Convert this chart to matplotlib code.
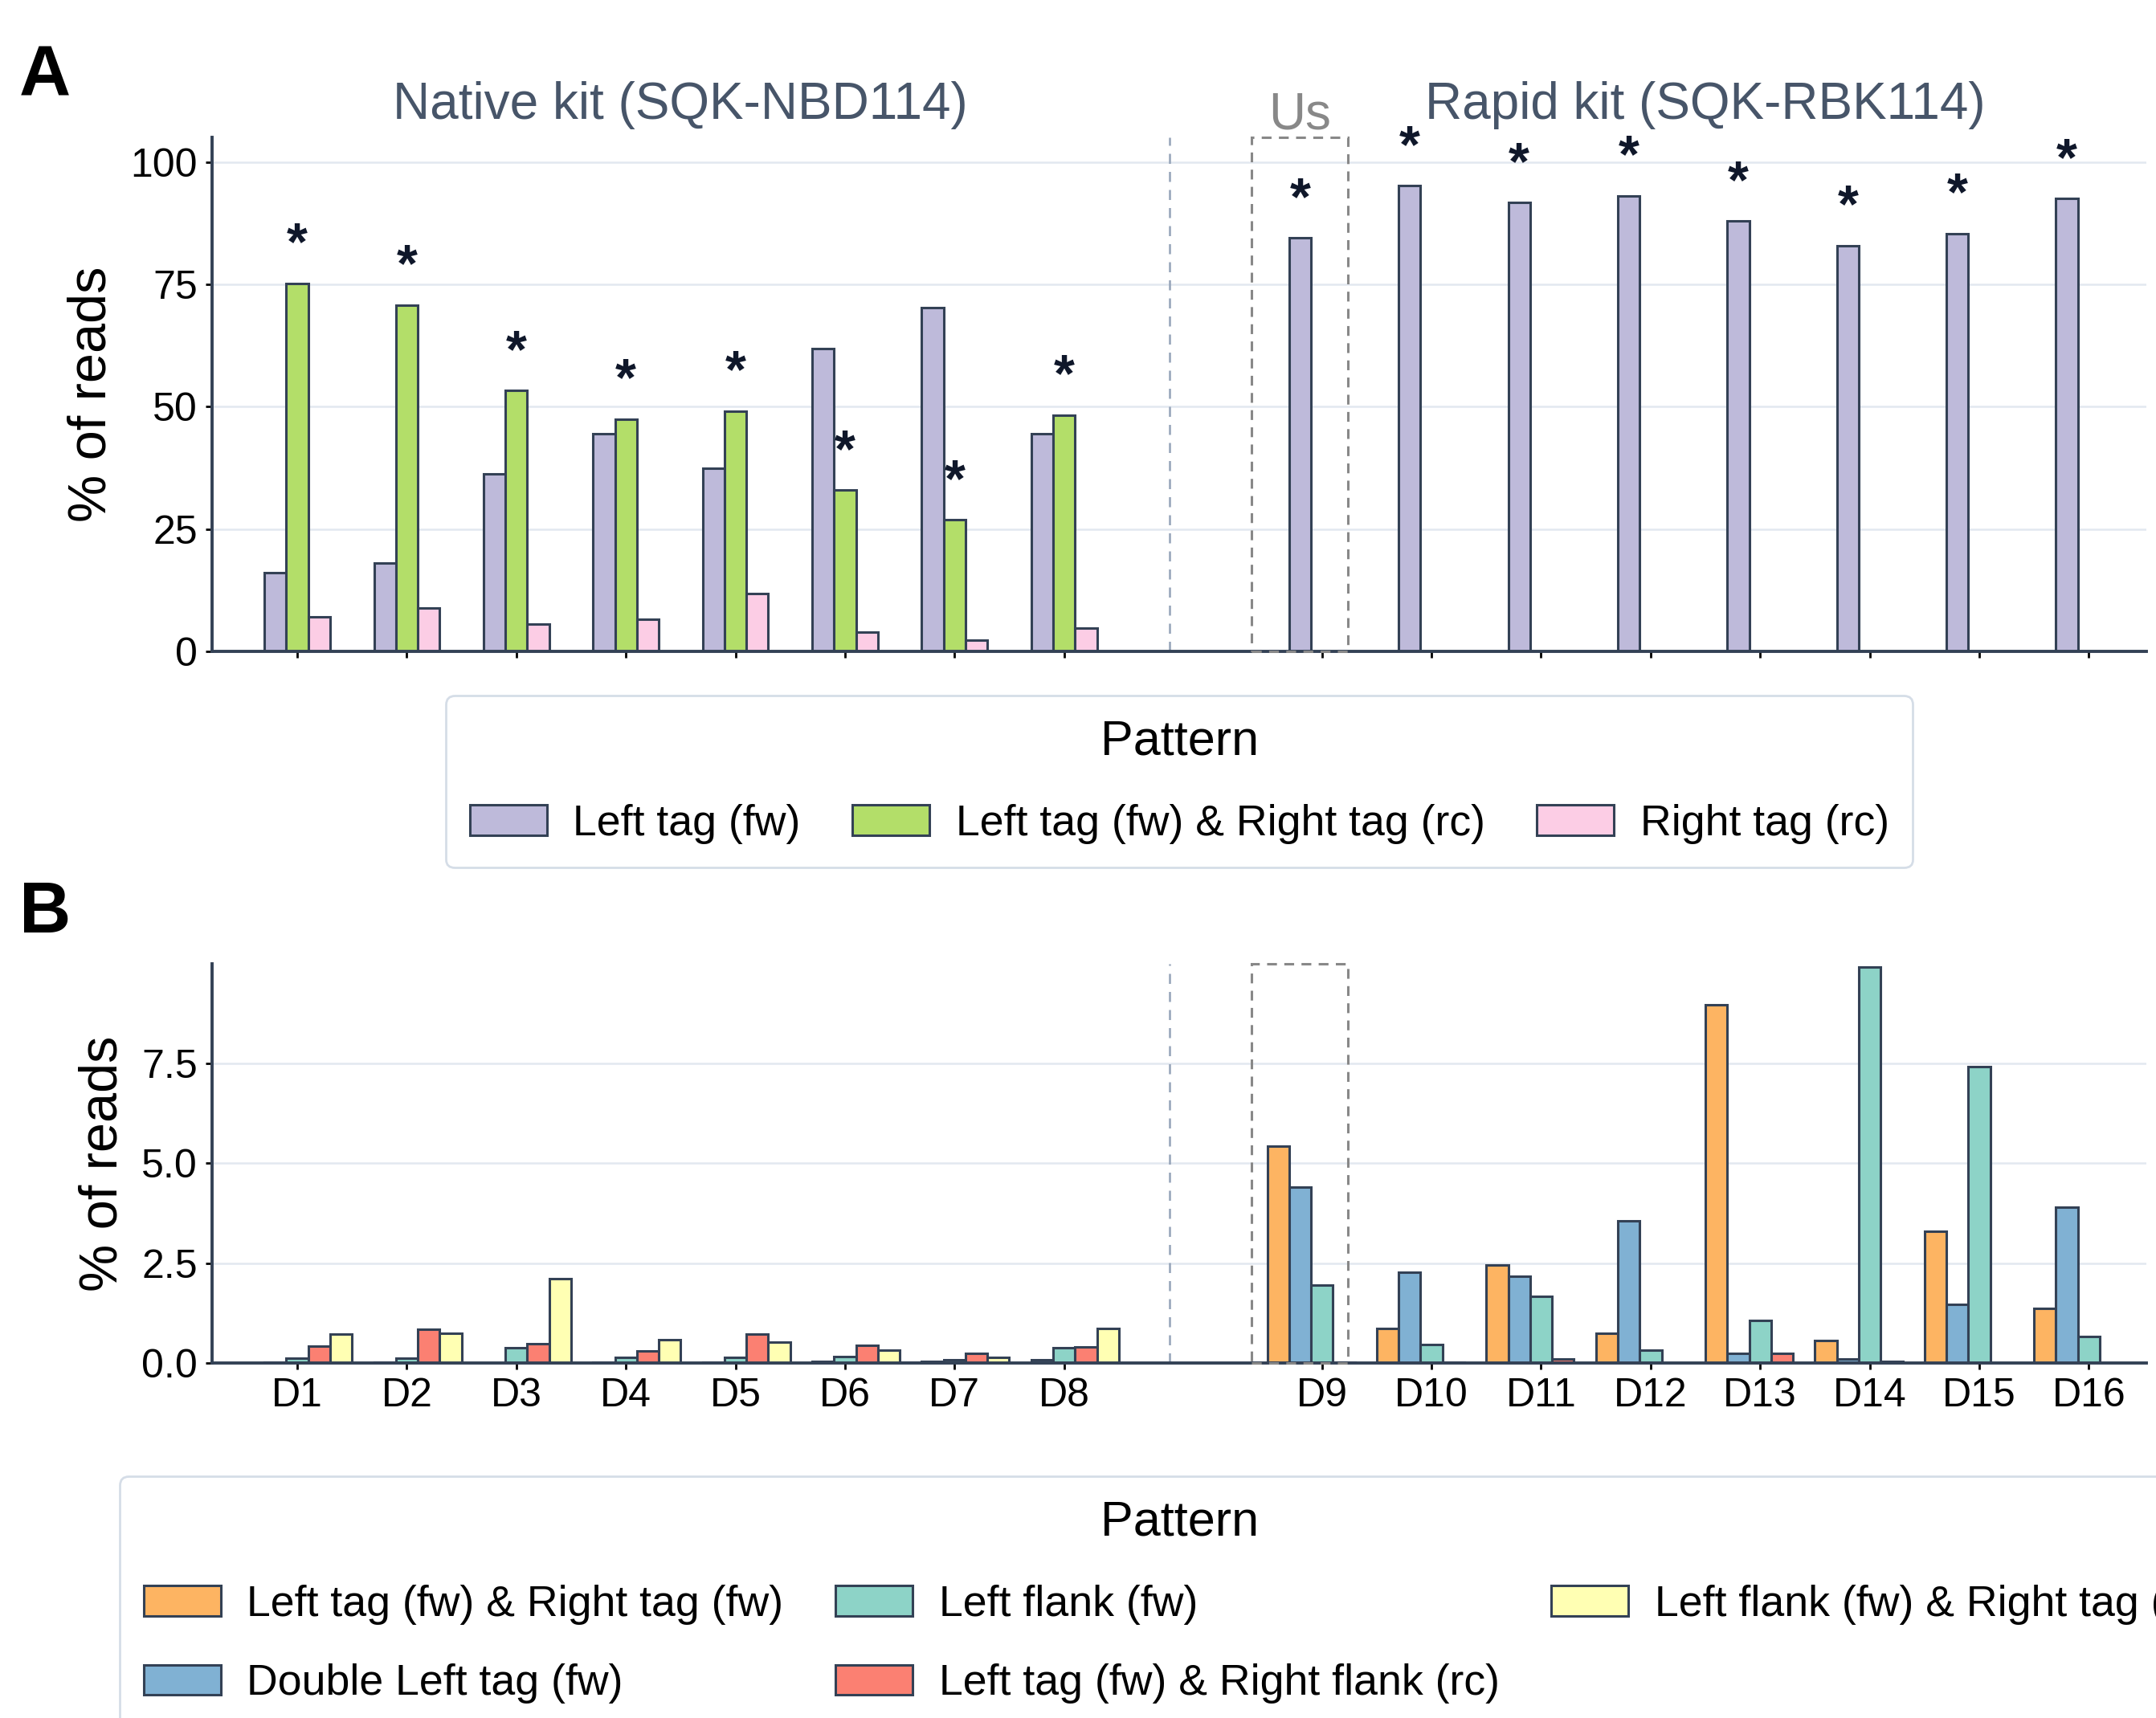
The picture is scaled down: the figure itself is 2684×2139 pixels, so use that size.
import matplotlib
matplotlib.use("Agg")
from matplotlib import pyplot as plt
from matplotlib.patches import Rectangle
import matplotlib.transforms as mtransforms
import numpy as np

plt.rcParams['font.family'] = ['Liberation Sans', 'DejaVu Sans']

# --- data ---
barcodes = ["D%d" % i for i in range(1, 17)]
native_n = 8  # D1..D8 native kit, D9..D16 rapid kit

# panel A (% of reads)
left_tag_fw = [16.1, 18.1, 36.2, 44.4, 37.5, 61.8, 70.2, 44.5,
               84.5, 95.1, 91.7, 93.1, 87.9, 82.9, 85.4, 92.5]
left_right_rc = [75.2, 70.8, 53.3, 47.5, 49.1, 33.0, 26.9, 48.3,
                 0, 0, 0, 0, 0, 0, 0, 0]
right_tag_rc = [7.0, 8.85, 5.6, 6.6, 11.8, 4.0, 2.35, 4.75,
                0, 0, 0, 0, 0, 0, 0, 0]

# panel B (% of reads)
left_right_fw = [0, 0, 0, 0, 0, 0, 0.02, 0,
                 5.43, 0.86, 2.45, 0.74, 8.96, 0.56, 3.30, 1.37]
double_left = [0.015, 0.015, 0.01, 0.015, 0.03, 0.05, 0.04, 0.09,
               4.41, 2.28, 2.18, 3.56, 0.24, 0.11, 1.46, 3.90]
left_flank = [0.13, 0.12, 0.38, 0.14, 0.14, 0.17, 0.08, 0.38,
              1.96, 0.47, 1.66, 0.32, 1.06, 9.90, 7.42, 0.66]
left_tag_right_flank = [0.43, 0.84, 0.49, 0.31, 0.72, 0.44, 0.25, 0.40,
                        0.03, 0.015, 0.11, 0.01, 0.25, 0.04, 0, 0.01]
left_flank_right_tag = [0.72, 0.74, 2.11, 0.58, 0.52, 0.32, 0.14, 0.87,
                        0, 0, 0, 0, 0, 0, 0, 0]

labels_a = ["Left tag (fw)", "Left tag (fw) & Right tag (rc)", "Right tag (rc)"]
colors_a = ["#bebada", "#b3de69", "#fccde5"]
labels_b = ["Left tag (fw) & Right tag (fw)", "Double Left tag (fw)", "Left flank (fw)",
            "Left tag (fw) & Right flank (rc)", "Left flank (fw) & Right tag (rc)"]
colors_b = ["#fdb462", "#80b1d3", "#8dd3c7", "#fb8072", "#ffffb3"]

# x positions: gap between the two kits
gap = 1.355
x = np.array([i if i < native_n else i + gap for i in range(16)], dtype=float)
sep_x = 7.96
bw = 0.2
edge = "#334155"

fig = plt.figure(figsize=(13.42, 10.695), dpi=200)
axA = fig.add_axes([0.0984, 0.6208, 0.8971, 0.2992])
axB = fig.add_axes([0.0984, 0.2066, 0.8971, 0.2324])


def style(ax):
    for s in ["top", "right"]:
        ax.spines[s].set_visible(False)
    for s in ["left", "bottom"]:
        ax.spines[s].set_color(edge)
        ax.spines[s].set_linewidth(1.4)
    ax.set_axisbelow(True)
    ax.yaxis.grid(True, color="#e2e8f0", linewidth=0.9)
    ax.tick_params(axis="both", labelsize=18, length=3, width=1, color="black")
    ax.set_xlim(-0.777, 16.88)
    ax.axvline(sep_x, color="#94a3b8", linestyle=(0, (5, 4)), linewidth=0.9)
    ax.set_ylabel("% of reads", fontsize=24, labelpad=6)


# panel A
series_a = [left_tag_fw, left_right_rc, right_tag_rc]
for k, (vals, col, lab) in enumerate(zip(series_a, colors_a, labels_a)):
    axA.bar(x + (k - 1) * bw, vals, width=bw, color=col, edgecolor=edge,
            linewidth=1.1, label=lab)
style(axA)
axA.set_ylim(0, 105)
axA.set_yticks([0, 25, 50, 75, 100])
axA.set_xticks(x)
axA.set_xticklabels([])

# significance stars
for i in range(16):
    if i < native_n:
        xs, v = x[i], left_right_rc[i]
    else:
        xs, v = x[i] - bw, left_tag_fw[i]
    axA.text(xs, v + 4.8, "*", ha="center", va="baseline", fontsize=24,
             fontweight="bold", color="#0f172a")

trA = mtransforms.blended_transform_factory(axA.transData, axA.transAxes)
axA.text(np.mean(x[:native_n]), 1.036, "Native kit (SQK-NBD114)", transform=trA,
         ha="center", va="baseline", fontsize=23, color="#475569")
axA.text(np.mean(x[native_n:]), 1.036, "Rapid kit (SQK-RBK114)", transform=trA,
         ha="center", va="baseline", fontsize=23, color="#475569")
axA.text(x[native_n] - bw, 1.017, "Us", transform=trA, ha="center", va="baseline",
         fontsize=23, color="#888888")

# panel B
series_b = [left_right_fw, double_left, left_flank, left_tag_right_flank, left_flank_right_tag]
for k, (vals, col, lab) in enumerate(zip(series_b, colors_b, labels_b)):
    axB.bar(x + (k - 2) * bw, vals, width=bw, color=col, edgecolor=edge,
            linewidth=1.1, label=lab)
style(axB)
axB.set_ylim(0, 9.99)
axB.set_yticks([0, 2.5, 5.0, 7.5])
axB.set_yticklabels(["0.0", "2.5", "5.0", "7.5"])
axB.set_xticks(x)
axB.set_xticklabels(barcodes)

# dashed box highlighting our sample
for ax in (axA, axB):
    ylo, yhi = ax.get_ylim()
    ax.add_patch(Rectangle((x[native_n] - bw - 0.44, 0), 0.88, yhi, fill=False,
                           edgecolor="#888888", linestyle=(0, (4, 3)), linewidth=1.1,
                           clip_on=False, zorder=5))

# legends
leg_kw = dict(loc="upper center", bbox_transform=fig.transFigure, ncol=3,
              fontsize=19.3, title="Pattern", title_fontsize=22, frameon=True,
              fancybox=True, borderpad=0.55, labelspacing=0.9, handlelength=1.8,
              handletextpad=0.6, columnspacing=1.2, borderaxespad=0)
legA = axA.legend(bbox_to_anchor=(0.547, 0.5951), **leg_kw)
legB = axB.legend(bbox_to_anchor=(0.547, 0.1407), **leg_kw)
for leg in (legA, legB):
    leg.get_frame().set_edgecolor("#cbd5e1")
    leg.get_frame().set_linewidth(1.0)

fig.text(0.0089, 0.9439, "A", fontsize=32, fontweight="bold", va="baseline")
fig.text(0.0089, 0.4572, "B", fontsize=32, fontweight="bold", va="baseline")

fig.savefig("out.png", dpi=200)
